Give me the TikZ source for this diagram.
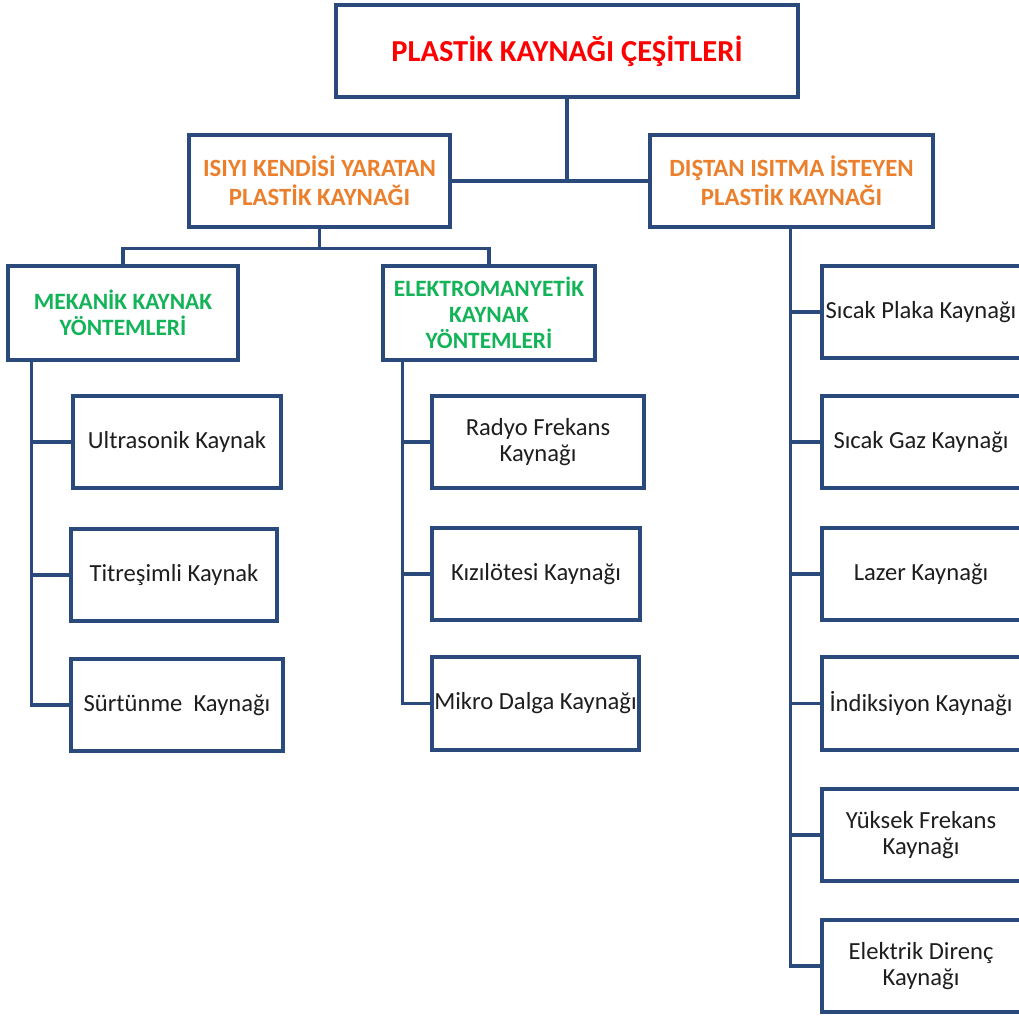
\documentclass[tikz,border=0pt]{standalone}
\usepackage{fontspec}
\usetikzlibrary{calc}
\setmainfont{Carlito}
\definecolor{lc}{HTML}{294A7A}
\definecolor{tred}{HTML}{FF0000}
\definecolor{torange}{HTML}{EC7F2C}
\definecolor{tgreen}{HTML}{13B358}
\definecolor{ttext}{HTML}{1E1E1E}
\begin{document}
\begin{tikzpicture}[x=1pt,y=-1pt,
  box/.style={draw=lc, line width=3.4pt, fill=white, align=center, inner sep=0pt, text=ttext, font=\fontsize{24.6}{26}\selectfont},
  titlebox/.style={box, text=tred, font=\fontsize{30.5}{34}\selectfont\bfseries},
  obox/.style={box, text=torange, font=\fontsize{24.8}{29}\selectfont\bfseries},
  gbox/.style={box, text=tgreen, font=\fontsize{23.4}{26}\selectfont\bfseries},
  rbox/.style={box, minimum width=204},
  rtext/.style={xshift=-3pt, align=center, inner sep=0pt, text=ttext, font=\fontsize{24.6}{26}\selectfont},
  conn/.style={draw=lc, line width=3.4pt}]
\useasboundingbox (0,0) rectangle (1019,1017);
\clip (0,0) rectangle (1019,1017);
\fill[white] (0,0) rectangle (1019,1017);

% level 0 and 1
\node[titlebox, minimum width=462, minimum height=92] (top) at (567,51) {PLASTİK KAYNAĞI ÇEŞİTLERİ};
\node[obox, minimum width=261, minimum height=92] (l1L) at (319.5,181) {ISIYI KENDİSİ YARATAN\\PLASTİK KAYNAĞI};
\node[obox, minimum width=283, minimum height=92] (l1R) at (791.5,181) {DIŞTAN ISITMA İSTEYEN\\PLASTİK KAYNAĞI};

% level 2
\node[gbox, minimum width=230, minimum height=94] (mek) at (123,313) {MEKANİK KAYNAK\\YÖNTEMLERİ};
\node[gbox, minimum width=212, minimum height=94] (elek) at (489,313) {ELEKTROMANYETİK\\KAYNAK\\YÖNTEMLERİ};

% mechanical
\node[box, minimum width=208, minimum height=92] (ultra) at (177,442) {Ultrasonik Kaynak};
\node[box, minimum width=206, minimum height=92] (titr) at (174,575) {Titreşimli Kaynak};
\node[box, minimum width=212, minimum height=92] (surt) at (177,705) {Sürtünme\ \ Kaynağı};

% electromagnetic
\node[box, minimum width=212, minimum height=92] (radyo) at (538,442) {Radyo Frekans\\Kaynağı};
\node[box, minimum width=208, minimum height=92] (kizil) at (536,574) {Kızılötesi Kaynağı};
\node[box, minimum width=207, minimum height=93] (mikro) at (535.5,703.5) {Mikro Dalga Kaynağı};

% external heating (boxes run past the right edge)
\node[rbox, minimum height=92, label={[rtext]center:Sıcak Plaka Kaynağı}] (sp) at (924,312) {};
\node[rbox, minimum height=92, label={[rtext]center:Sıcak Gaz Kaynağı}] (sg) at (924,442) {};
\node[rbox, minimum height=92, label={[rtext]center:Lazer Kaynağı}] (lz) at (924,574) {};
\node[rbox, minimum height=93, label={[rtext]center:İndiksiyon Kaynağı}] (ind) at (924,703.5) {};
\node[rbox, minimum height=92, label={[rtext]center:Yüksek Frekans\\Kaynağı}] (yf) at (924,835) {};
\node[rbox, minimum height=92, label={[rtext]center:Elektrik Direnç\\Kaynağı}] (ed) at (924,966) {};

% connectors
\draw[conn] (top.south) |- (l1L.east);
\draw[conn] (top.south) |- (l1R.west);
\coordinate (busL) at ($(l1L.south)+(0,20)$);
\draw[conn] (l1L.south) -- (busL) -| (mek.north);
\draw[conn] (busL) -| (elek.north);

\coordinate (mekbus) at ($(mek.south west)+(25,0)$);
\draw[conn] (mekbus) |- (ultra.west);
\draw[conn] (mekbus) |- (titr.west);
\draw[conn] (mekbus) |- (surt.west);

\coordinate (elekbus) at ($(elek.south west)+(21,0)$);
\draw[conn] (elekbus) |- (radyo.west);
\draw[conn] (elekbus) |- (kizil.west);
\draw[conn] (elekbus) |- (mikro.west);

\coordinate (rbus) at ($(l1R.south west)+(142,0)$);
\draw[conn] (rbus) |- (sp.west);
\draw[conn] (rbus) |- (sg.west);
\draw[conn] (rbus) |- (lz.west);
\draw[conn] (rbus) |- (ind.west);
\draw[conn] (rbus) |- (yf.west);
\draw[conn] (rbus) |- (ed.west);
\end{tikzpicture}
\end{document}
